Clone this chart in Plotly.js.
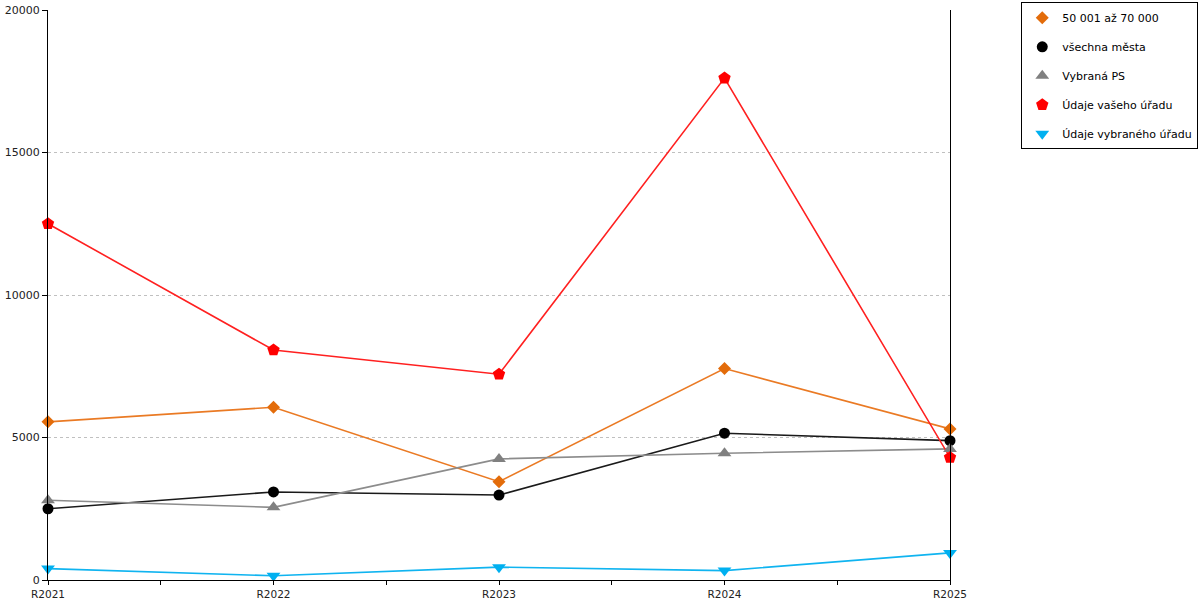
<!DOCTYPE html>
<html>
<head>
<meta charset="utf-8">
<script src="https://cdn.plot.ly/plotly-3.0.1.min.js"></script>
<style>
  body { margin: 0; background: #fff; }
  #chart { width: 1200px; height: 600px; }
</style>
</head>
<body>
<div id="chart"></div>
<script>
var categories = ['R2021', 'R2022', 'R2023', 'R2024', 'R2025'];

var seriesNames = ['50 001 až 70 000', 'všechna města', 'Vybraná PS', 'Údaje vašeho úřadu', 'Údaje vybraného úřadu'];
var mesta50k = [5550, 6060, 3450, 7420, 5300];
var vsechnaMesta = [2500, 3090, 2980, 5150, 4890];
var vybranaPS = [2800, 2550, 4250, 4450, 4600];
var vasUrad = [12500, 8070, 7220, 17610, 4300];
var vybranyUrad = [400, 150, 450, 330, 950];

var colors = ['#e36c0a', '#000000', '#808080', '#ff0000', '#00b0f0'];
var lineColors = ['#ea7a24', '#1a1a1a', '#8c8c8c', '#ff2020', '#10b4f0'];
var symbols = ['diamond', 'circle', 'triangle-up', 'pentagon', 'triangle-down'];
var sizes = [10, 11, 12, 13, 12];

var values = [mesta50k, vsechnaMesta, vybranaPS, vasUrad, vybranyUrad];
var xIdx = categories.map(function (c, i) { return i; });

var data = [];
// lines first, no legend
values.forEach(function (v, i) {
    data.push({
        x: xIdx, y: v,
        type: 'scatter', mode: 'lines',
        line: { color: lineColors[i], width: 1.6 },
        showlegend: false, hoverinfo: 'skip'
    });
});
// markers, these carry the legend
values.forEach(function (v, i) {
    data.push({
        x: xIdx, y: v,
        type: 'scatter', mode: 'markers',
        name: seriesNames[i],
        legendgroup: 'g' + i,
        marker: { symbol: symbols[i], size: sizes[i], color: colors[i] },
        cliponaxis: false
    });
});

var layout = {
    width: 1200, height: 600,
    margin: { l: 48, r: 250, t: 10, b: 20, autoexpand: false },
    paper_bgcolor: '#fff', plot_bgcolor: '#fff',
    font: { family: 'DejaVu Sans, Verdana, sans-serif', size: 11, color: '#222' },
    showlegend: true,
    legend: {
        x: 1.079, xanchor: 'left',
        y: 1.0135, yanchor: 'top',
        bordercolor: '#000', borderwidth: 1,
        bgcolor: '#fff',
        font: { size: 11, color: '#000' },
        traceorder: 'grouped',
        tracegroupgap: 10,
        itemwidth: 30
    },
    xaxis: {
        range: [0, 4],
        tickvals: xIdx,
        ticktext: categories,
        ticks: 'outside', ticklen: 4, tickcolor: '#000',
        minor: { dtick: 0.5, tick0: 0, ticks: 'outside', ticklen: 4, tickcolor: '#000' },
        showgrid: false, zeroline: false,
        showline: true, linecolor: '#000', linewidth: 1,
        tickfont: { size: 10.5, color: '#222' },
        fixedrange: true
    },
    yaxis: {
        range: [0, 20000],
        dtick: 5000,
        tickformat: 'd',
        ticks: 'outside', ticklen: 5, tickcolor: '#000',
        showgrid: true, gridcolor: '#c0c0c0', griddash: 'dot', gridwidth: 1,
        zeroline: false,
        showline: true, linecolor: '#000', linewidth: 1, mirror: true,
        tickfont: { size: 11, color: '#222' },
        fixedrange: true
    }
};

Plotly.newPlot('chart', data, layout, { displayModeBar: false, staticPlot: true });
</script>
</body>
</html>
